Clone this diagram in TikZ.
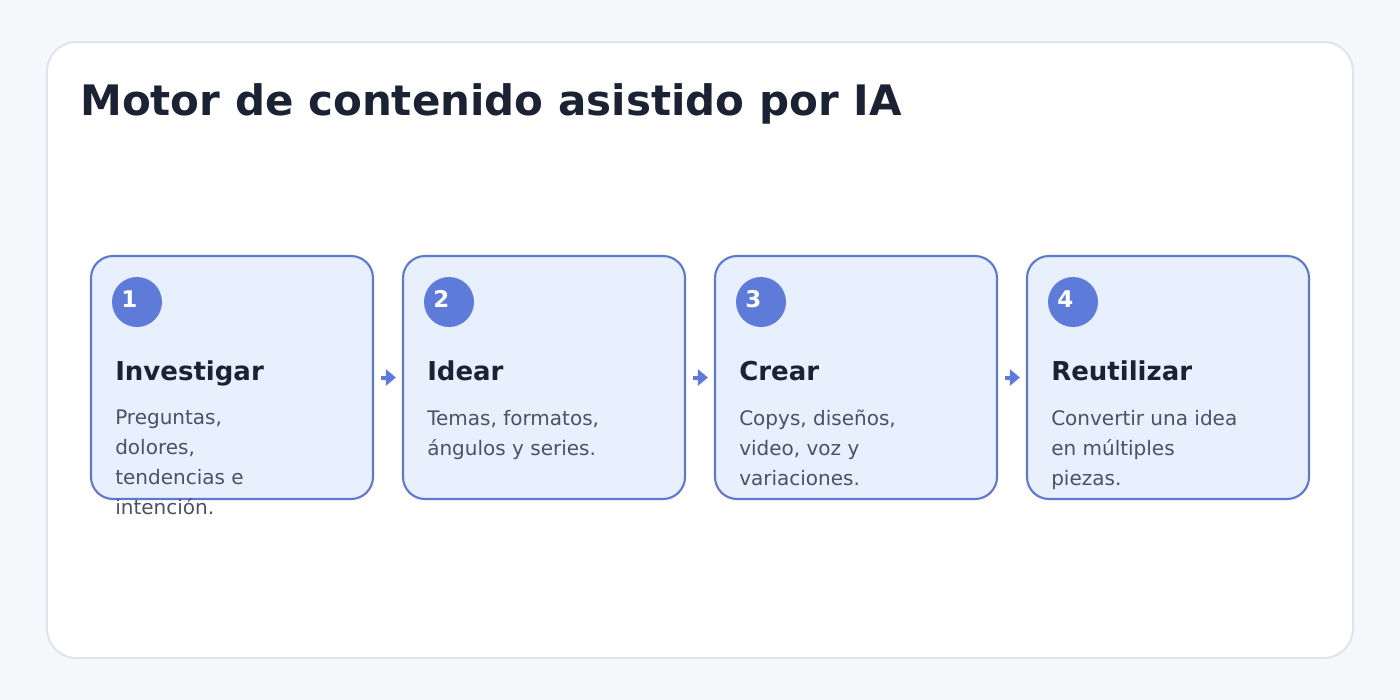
\documentclass[tikz,border=0pt]{standalone}
\usepackage{fontspec}
\setmainfont{DejaVu Sans}
\usetikzlibrary{arrows.meta}

\definecolor{pagebg}{HTML}{F5F7FB}
\definecolor{panelline}{HTML}{DFE3EA}
\definecolor{cardfill}{HTML}{E8F0FD}
\definecolor{cardline}{HTML}{6079CC}
\definecolor{badge}{HTML}{5F7BDA}
\definecolor{ink}{HTML}{1A2233}
\definecolor{muted}{HTML}{4A5263}

\tikzset{
    card/.style={draw=cardline, line width=1.6pt, fill=cardfill, rounded corners=16.5pt,
        minimum width=211.5pt, minimum height=182.25pt, inner sep=0pt},
    badgedot/.style={circle, fill=badge, minimum size=37.5pt, inner sep=0pt},
    badgenum/.style={anchor=base west, inner sep=0pt, text=white,
        font=\fontsize{17.25}{17.25}\selectfont\bfseries},
    heading/.style={anchor=base west, inner sep=0pt, text=ink,
        font=\fontsize{19.5}{19.5}\selectfont\bfseries},
    body/.style={anchor=north west, inner sep=0pt, text=muted, align=left,
        font=\fontsize{15}{22.5}\selectfont},
    flow/.style={draw=badge, line width=3pt, -{Triangle[length=7.5pt, width=12pt]},
        shorten <=5pt, shorten >=4.5pt}
}

\begin{document}
\begin{tikzpicture}[x=0.75pt, y=-0.75pt]
    % Page and panel
    \fill[pagebg] (0,0) rectangle (1400,700);
    \useasboundingbox (0,0) rectangle (1400,700);
    \draw[panelline, line width=1.5pt, fill=white, rounded corners=22pt] (47,42) rectangle (1353,658);

    \node[anchor=base west, inner sep=0pt, text=ink, font=\fontsize{31.5}{31.5}\selectfont\bfseries]
        (title) at (80,115) {Motor de contenido asistido por IA};

    % Cards
    \node[card] (card1) at (232,377.5) {};
    \node[card] (card2) at (544,377.5) {};
    \node[card] (card3) at (856,377.5) {};
    \node[card] (card4) at (1168,377.5) {};

    % Badges
    \node[badgedot] (dot1) at (137,302) {};
    \node[badgedot] (dot2) at (449,302) {};
    \node[badgedot] (dot3) at (761,302) {};
    \node[badgedot] (dot4) at (1073,302) {};
    \node[badgenum] (num1) at (121,307) {1};
    \node[badgenum] (num2) at (433,307) {2};
    \node[badgenum] (num3) at (745,307) {3};
    \node[badgenum] (num4) at (1057,307) {4};

    % Headings
    \node[heading] (head1) at (115,380) {Investigar};
    \node[heading] (head2) at (427,380) {Idear};
    \node[heading] (head3) at (739,380) {Crear};
    \node[heading] (head4) at (1051,380) {Reutilizar};

    % Descriptions
    \node[body] (text1) at (115,410) {Preguntas,\\dolores,\\tendencias e\\intención.};
    \node[body] (text2) at (427,410) {Temas, formatos,\\ángulos y series.};
    \node[body] (text3) at (739,410) {Copys, diseños,\\video, voz y\\variaciones.};
    \node[body] (text4) at (1051,410) {Convertir una idea\\en múltiples\\piezas.};

    % Arrows
    \draw[flow] (card1.east) -- (card2.west);
    \draw[flow] (card2.east) -- (card3.west);
    \draw[flow] (card3.east) -- (card4.west);
\end{tikzpicture}
\end{document}
